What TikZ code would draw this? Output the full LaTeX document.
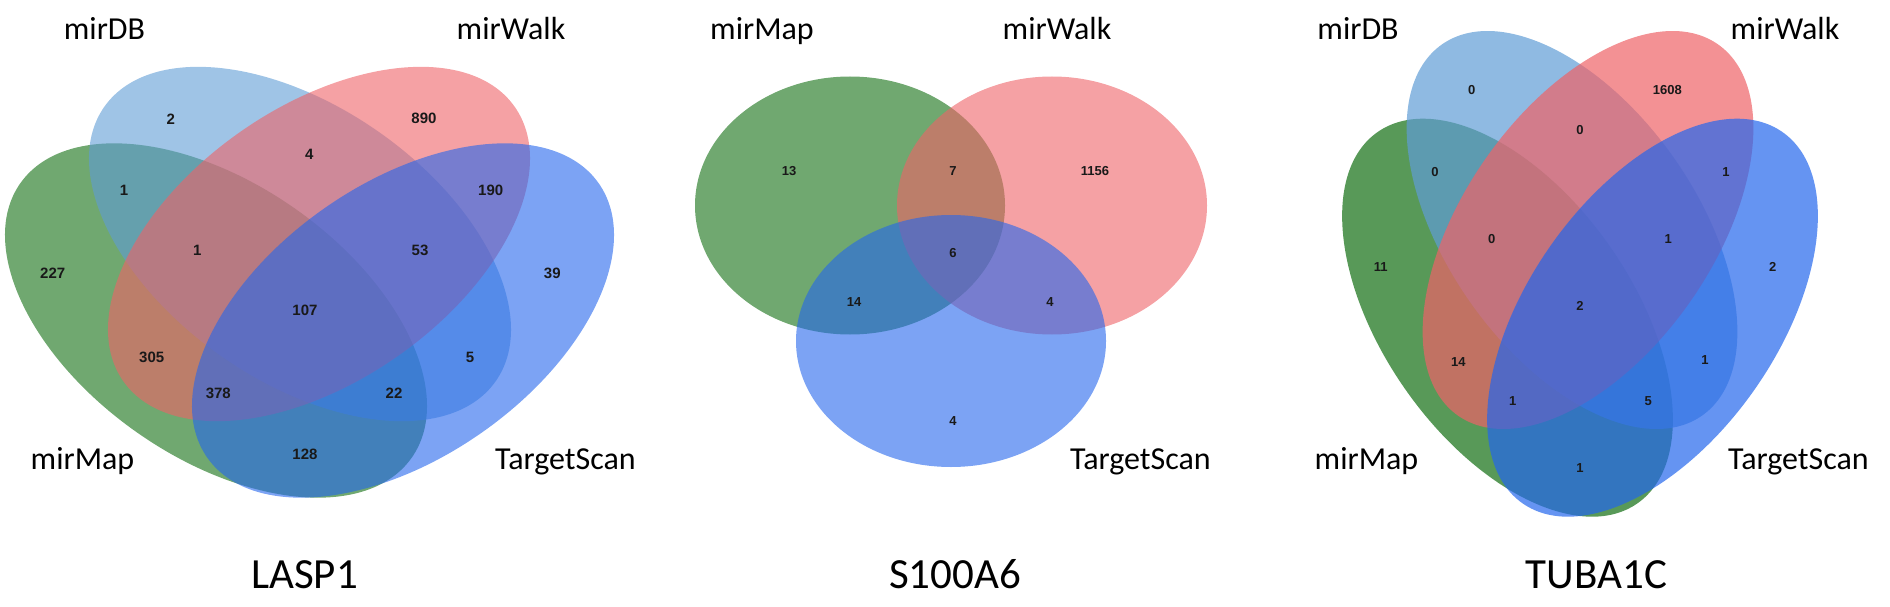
\documentclass[tikz,border=0pt]{standalone}
\usepackage{fontspec}
\setmainfont{Carlito}
\newfontfamily\numfont{Liberation Sans}
\usepackage{tikz}

\definecolor{mapgreen}{RGB}{17,110,17}
\definecolor{dbblue}{RGB}{95,156,213}
\definecolor{walkred}{RGB}{238,98,103}
\definecolor{scanblue}{RGB}{36,102,236}

\tikzset{
  mapset/.style={fill=mapgreen},
  dbset/.style={fill=dbblue},
  walkset/.style={fill=walkred},
  scanset/.style={fill=scanblue},
  setname/.style={font=\fontsize{32}{36}\selectfont, anchor=base, inner sep=0pt},
  genename/.style={font=\fontsize{43}{48}\selectfont, anchor=base, inner sep=0pt},
  count/.style={font=\numfont\bfseries\fontsize{15}{17}\selectfont, text=black!90, inner sep=0pt},
  smallcount/.style={count, font=\numfont\bfseries\fontsize{13}{15}\selectfont}
}

\begin{document}
\begin{tikzpicture}[x=1pt, y=-1pt]
   \useasboundingbox (0,0) rectangle (1890,607);

   % LASP1
   \begin{scope}[fill opacity=0.6]
      \fill[mapset, rotate around={-35:(216,320.5)}] (216,320.5) ellipse [x radius=239, y radius=137];
      \fill[dbset, rotate around={-35:(300,244)}] (300,244) ellipse [x radius=239, y radius=137];
      \fill[walkset, rotate around={35:(319,244)}] (319,244) ellipse [x radius=239, y radius=137];
      \fill[scanset, rotate around={35:(403,320.5)}] (403,320.5) ellipse [x radius=239, y radius=137];
   \end{scope}

   \node[setname] (laspdb) at (104.5,39.5) {mirDB};
   \node[setname] (laspwalk) at (511,39.5) {mirWalk};
   \node[setname] (laspmap) at (82.5,469) {mirMap};
   \node[setname, anchor=base west] (laspscan) at (495,469) {TargetScan};
   \node[genename] (lasp) at (304.5,588) {LASP1};

   \node[count] (lasp2) at (170.7,119.3) {2};
   \node[count] (lasp890) at (424,118.3) {890};
   \node[count] (lasp4) at (309.3,154.3) {4};
   \node[count] (lasp1a) at (124,190) {1};
   \node[count] (lasp190) at (490.7,190) {190};
   \node[count] (lasp227) at (52.7,273.3) {227};
   \node[count] (lasp1b) at (197.3,250) {1};
   \node[count] (lasp53) at (420,250) {53};
   \node[count] (lasp39) at (552.3,273.3) {39};
   \node[count] (lasp107) at (305,310) {107};
   \node[count] (lasp305) at (151.7,357.7) {305};
   \node[count] (lasp5) at (470,357.7) {5};
   \node[count] (lasp378) at (218.3,393.3) {378};
   \node[count] (lasp22) at (394,393.3) {22};
   \node[count] (lasp128) at (305,454) {128};

   % S100A6
   \begin{scope}[fill opacity=0.6]
      \fill[mapset] (850,205.5) ellipse [x radius=155, y radius=129];
      \fill[walkset] (1052,205.5) ellipse [x radius=155, y radius=129];
      \fill[scanset] (951,341) ellipse [x radius=155, y radius=126];
   \end{scope}

   \node[setname] (smap) at (762,39.5) {mirMap};
   \node[setname] (swalk) at (1057,39.5) {mirWalk};
   \node[setname, anchor=base west] (sscan) at (1070,469) {TargetScan};
   \node[genename] (s100) at (955,588) {S100A6};

   \node[smallcount] (s13) at (789,171) {13};
   \node[smallcount] (s7) at (953,171) {7};
   \node[smallcount] (s1156) at (1095,171) {1156};
   \node[smallcount] (s6) at (953,253) {6};
   \node[smallcount] (s14) at (854,302) {14};
   \node[smallcount] (s4a) at (1050,302) {4};
   \node[smallcount] (s4b) at (953,421) {4};

   % TUBA1C
   \begin{scope}[fill opacity=0.7]
      \fill[mapset, rotate around={-55:(1507.5,317.7)}] (1507.5,317.7) ellipse [x radius=226.6, y radius=124.8];
      \fill[dbset, rotate around={-55:(1572,230)}] (1572,230) ellipse [x radius=226.6, y radius=124.8];
      \fill[walkset, rotate around={55:(1588,230)}] (1588,230) ellipse [x radius=226.6, y radius=124.8];
      \fill[scanset, rotate around={55:(1652.5,317.7)}] (1652.5,317.7) ellipse [x radius=226.6, y radius=124.8];
   \end{scope}

   \node[setname] (tudb) at (1358,39.5) {mirDB};
   \node[setname] (tuwalk) at (1785,39.5) {mirWalk};
   \node[setname] (tumap) at (1366.5,469) {mirMap};
   \node[setname, anchor=base west] (tuscan) at (1728,469) {TargetScan};
   \node[genename] (tuba) at (1596.5,588) {TUBA1C};

   \node[smallcount] (tu0a) at (1471.7,90) {0};
   \node[smallcount] (tu1608) at (1667.3,90) {1608};
   \node[smallcount] (tu0b) at (1580,130) {0};
   \node[smallcount] (tu0c) at (1435,171.7) {0};
   \node[smallcount] (tu1a) at (1726,171.7) {1};
   \node[smallcount] (tu11) at (1380.7,266.7) {11};
   \node[smallcount] (tu0d) at (1491.7,239.3) {0};
   \node[smallcount] (tu1b) at (1668.3,239.3) {1};
   \node[smallcount] (tu2a) at (1772.7,266.7) {2};
   \node[smallcount] (tu2b) at (1580,306) {2};
   \node[smallcount] (tu14) at (1458.3,361.7) {14};
   \node[smallcount] (tu1c) at (1705,360) {1};
   \node[smallcount] (tu1d) at (1512.7,400.7) {1};
   \node[smallcount] (tu5) at (1648.3,400.7) {5};
   \node[smallcount] (tu1e) at (1580,468.3) {1};
\end{tikzpicture}
\end{document}
